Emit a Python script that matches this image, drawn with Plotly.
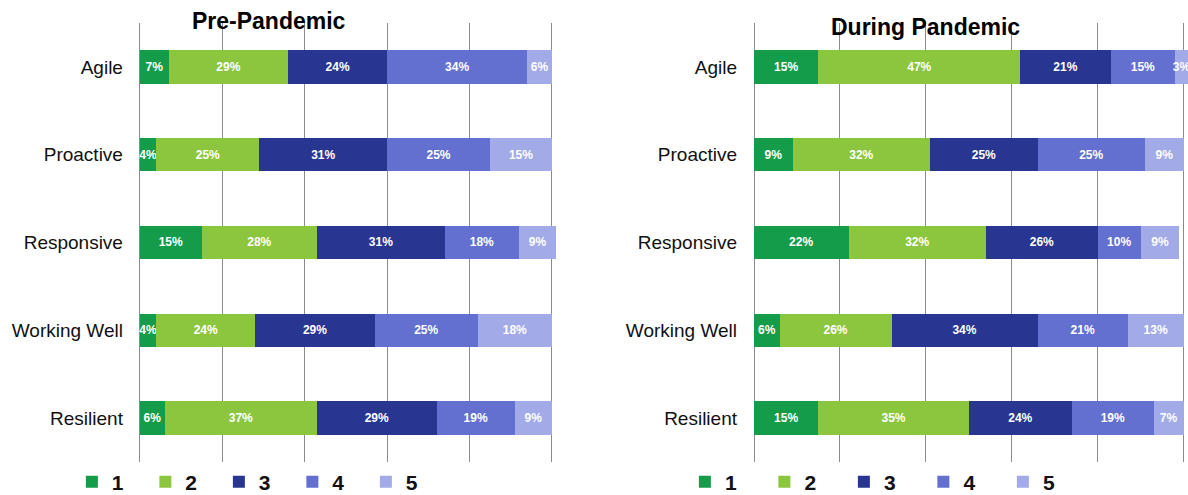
import plotly.graph_objects as go

# Survey categories (top to bottom) and rating levels
categories = ["Agile", "Proactive", "Responsive", "Working Well", "Resilient"]
levels = ["1", "2", "3", "4", "5"]

# Pre-pandemic shares (%) per rating level, in category order
pre_1 = [7, 4, 15, 4, 6]
pre_2 = [29, 25, 28, 24, 37]
pre_3 = [24, 31, 31, 29, 29]
pre_4 = [34, 25, 18, 25, 19]
pre_5 = [6, 15, 9, 18, 9]

# During-pandemic shares (%) per rating level, in category order
during_1 = [15, 9, 22, 6, 15]
during_2 = [47, 32, 32, 26, 35]
during_3 = [21, 25, 26, 34, 24]
during_4 = [15, 25, 10, 21, 19]
during_5 = [3, 9, 9, 13, 7]

panel_titles = ["Pre-Pandemic", "During Pandemic"]

level_colors = ["#149c4a", "#8cc63f", "#283691", "#6370d0", "#a2aae8"]
FONT = "Arial, Liberation Sans, sans-serif"
GRID = "#8c8c8c"

pre_series = [pre_1, pre_2, pre_3, pre_4, pre_5]
during_series = [during_1, during_2, during_3, during_4, during_5]

fig = go.Figure()

panels = [
    (pre_series, "x", "y", "legend"),
    (during_series, "x2", "y2", "legend2"),
]
for series, xa, ya, lg in panels:
    for level, values, color in zip(levels, series, level_colors):
        fig.add_trace(go.Bar(
            x=values,
            y=categories,
            orientation="h",
            name=level,
            xaxis=xa,
            yaxis=ya,
            legend=lg,
            marker=dict(color=color, line=dict(width=0)),
            width=0.38,
            text=[f"{v}%" for v in values],
            textposition="inside",
            insidetextanchor="middle",
            textangle=0,
            constraintext="none",
            insidetextfont=dict(color="white", size=12, family=FONT, weight="bold"),
            cliponaxis=False,
            hovertemplate="%{y}: %{x}%<extra>" + level + "</extra>",
        ))

# rounded shares can total 101%, so the value axis runs slightly past 100
xcommon = dict(
    range=[0, 101], dtick=20, tick0=0, showgrid=True, gridcolor=GRID, gridwidth=1,
    showticklabels=False, ticks="", zeroline=True, zerolinecolor=GRID, zerolinewidth=1,
    showline=False, fixedrange=True,
)
ycommon = dict(
    categoryorder="array", categoryarray=categories, autorange="reversed",
    showgrid=False, zeroline=False, showline=False, ticks="",
    ticklabelstandoff=16, automargin=False,
    tickfont=dict(size=19, family=FONT, color="#111111"),
    domain=[0.0667, 0.9535],
)

legend_common = dict(
    orientation="h", yanchor="middle", y=0.026, xanchor="left",
    font=dict(size=21, family=FONT, color="#111111", weight="bold"),
    bgcolor="rgba(0,0,0,0)", itemclick=False, itemdoubleclick=False,
    entrywidthmode="pixels", tracegroupgap=0, traceorder="normal",
)

fig.update_layout(
    width=1188, height=495,
    margin=dict(l=0, r=0, t=0, b=0, autoexpand=False),
    paper_bgcolor="white", plot_bgcolor="white",
    barmode="stack", bargap=0.62,
    xaxis=dict(domain=[0.1178, 0.4681], anchor="y", **xcommon),
    xaxis2=dict(domain=[0.6347, 1.0], anchor="y2", **xcommon),
    yaxis=dict(anchor="x", **ycommon),
    yaxis2=dict(anchor="x2", **ycommon),
    legend=dict(x=0.0605, entrywidth=28.5, **legend_common),
    legend2=dict(x=0.5765, entrywidth=34.5, **legend_common),
    annotations=[
        dict(text=panel_titles[0], x=269 / 1188, y=1 - 21 / 495, xref="paper", yref="paper",
             xanchor="center", yanchor="middle", showarrow=False,
             font=dict(size=23, family=FONT, color="black", weight="bold")),
        dict(text=panel_titles[1], x=926 / 1188, y=1 - 27 / 495, xref="paper", yref="paper",
             xanchor="center", yanchor="middle", showarrow=False,
             font=dict(size=23, family=FONT, color="black", weight="bold")),
    ],
    showlegend=True,
)

fig.write_html("out.html")
